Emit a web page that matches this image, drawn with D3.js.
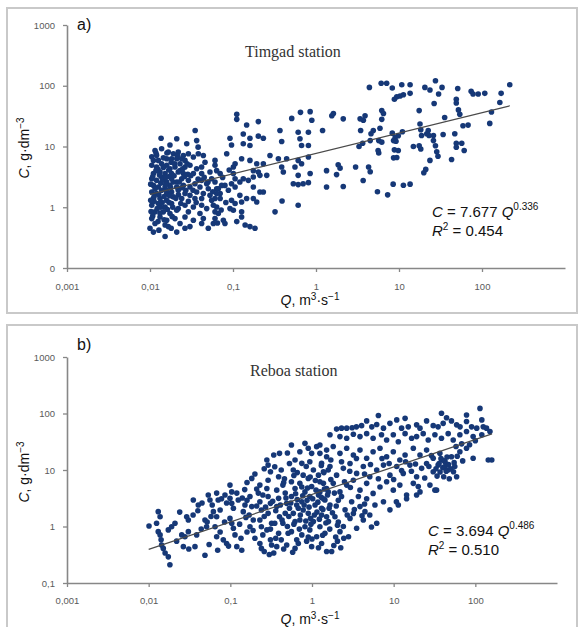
<!DOCTYPE html>
<html>
<head>
<meta charset="utf-8">
<script src="https://cdn.jsdelivr.net/npm/d3@7"></script>
<style>
  body { margin: 0; background: #fff; }
  text { font-family: "Liberation Sans", Arial, sans-serif; }
</style>
</head>
<body>
<script>
/*
*    C-Q rating plots, Timgad and Reboa stations
*/

// axis ticks
var xTicks = [0.001, 0.01, 0.1, 1, 10, 100];
var xTickLabels = ["0,001", "0,01", "0,1", "1", "10", "100"];
var yTicks = [0.1, 1, 10, 100, 1000];
var yTickLabelsA = ["0", "1", "10", "100", "1000"];
var yTickLabelsB = ["0,1", "1", "10", "100", "1000"];

// power law fits C = a*Q^b, R2 and Q range of the drawn line
var fitA = [7.677, 0.336];
var fitB = [3.694, 0.486];
var r2A = "0.454";
var r2B = "0.510";
var lineRangeA = [0.01, 217];
var lineRangeB = [0.01, 160];

// Timgad station [Q, C]
var timgad = [
  [0.111,34],[0.111,28],[0.146,22.6],[0.202,25.7],[0.51,29],[0.65,36.5],[0.85,37.5],[0.89,27],
  [0.035,18.3],[0.0136,13.7],[0.021,13.4],[0.0365,12.5],[0.038,9.75],[0.0277,11.1],[0.0174,10.6],
  [0.092,13.7],[0.096,10.6],[0.133,16.1],[0.16,13.7],[0.202,14.8],[0.232,13.7],[0.133,11.1],[0.16,10.4],
  [0.368,18.3],[0.386,12.1],[0.641,13.4],[0.81,17.2],[0.61,17.2],[0.67,10.4],[0.81,10.4],
  [0.084,7.6],[0.279,7.1],[0.352,6.3],[0.443,6.3],[0.61,5.9],[0.81,6.7],
  [0.106,5.2],[0.127,6.3],[0.16,5.9],[0.193,5.2],[0.232,5.2],[0.101,4.6],[0.176,4.0],[0.202,3.8],[0.211,3.35],[0.255,3.35],
  [0.386,4.6],[0.404,3.8],[0.558,4.6],[0.67,5.2],[0.61,3.35],[0.533,2.44],[0.61,2.36],[0.70,2.44],[0.81,2.54],[0.85,3.6],
  [0.133,2.95],[0.153,2.77],[0.176,3.15],[0.101,3.6],[0.106,2.95],[0.121,2.6],[0.096,2.44],[0.106,2.15],[0.08,2.29],[0.088,1.9],
  [0.176,2.15],[0.211,1.78],[0.232,1.78],[0.146,1.39],[0.176,1.39],[0.193,1.22],[0.321,0.84],[0.61,1.08],[0.39,1.27],
  [0.0666,2.02],[0.07,1.68],[0.0607,1.39],[0.0636,1.01],[0.0666,0.79],[0.092,0.95],[0.101,0.89],[0.0765,0.61],[0.08,0.54],
  [0.111,0.58],[0.127,0.84],[0.127,0.69],[0.14,0.51],[0.16,0.48],[0.184,0.45],
  [0.096,1.3],[0.106,1.15],[0.121,1.57],[0.127,1.22],[0.0504,0.45],[0.058,0.54],
  [0.0115,8.6],[0.0138,9.2],[0.0166,8.1],[0.0191,7.6],[0.0219,8.1],[0.0252,7.1],[0.029,7.6],[0.0333,6.7],[0.0382,7.6],[0.0439,7.1],
  [0.0159,6.3],[0.0182,6.3],[0.021,6.3],[0.0241,6.3],[0.011,5.9],[0.0126,5.9],[0.0264,5.9],[0.0607,5.9],[0.046,5.5],
  [0.0105,4.9],[0.012,4.6],[0.0138,5.2],[0.0159,4.9],[0.0174,4.3],[0.02,4.6],[0.023,5.2],[0.0264,4.6],[0.0303,4.9],[0.0365,4.3],[0.0419,4.6],[0.0607,4.9],[0.0636,4.0],
  [0.011,3.6],[0.0132,3.8],[0.0152,3.6],[0.0182,3.6],[0.0219,3.8],[0.0252,3.6],[0.0333,3.6],[0.0419,3.6],[0.0528,3.8],[0.07,3.6],
  [0.0105,2.95],[0.012,2.77],[0.0138,3.15],[0.0159,2.6],[0.0182,2.95],[0.021,2.6],[0.0241,2.95],[0.029,2.77],[0.0348,2.44],[0.0419,2.77],[0.0482,2.44],[0.0553,2.95],[0.0607,2.6],
  [0.011,2.29],[0.0126,2.15],[0.0152,2.15],[0.0174,2.29],[0.021,2.15],[0.0252,2.29],[0.0303,2.15],[0.04,2.15],[0.0504,2.02],[0.0636,2.02],[0.073,2.29],
  [0.0105,1.78],[0.012,1.68],[0.0138,1.9],[0.0159,1.68],[0.0182,1.78],[0.0219,1.9],[0.0264,1.68],[0.0303,1.57],[0.0365,1.78],[0.0439,1.68],[0.0528,1.57],[0.0636,1.68],
  [0.011,1.39],[0.0132,1.39],[0.0159,1.3],[0.0191,1.48],[0.0241,1.39],[0.029,1.25],[0.0348,1.39],[0.0419,1.39],[0.0553,1.3],[0.07,1.39],
  [0.0105,1.08],[0.0126,1.15],[0.0152,1.01],[0.0182,1.15],[0.0219,0.95],[0.0264,1.08],[0.0333,1.01],[0.0419,1.08],[0.0482,0.95],[0.058,1.08],
  [0.0115,0.84],[0.0145,0.84],[0.0174,0.79],[0.021,0.89],[0.029,0.84],[0.04,0.79],[0.0607,0.84],
  [0.0105,0.65],[0.0132,0.69],[0.0159,0.61],[0.02,0.65],[0.0264,0.69],[0.0333,0.61],[0.0439,0.65],[0.0607,0.65],
  [0.0115,0.54],[0.0152,0.51],[0.023,0.54],[0.0303,0.48],[0.0419,0.54],[0.01,0.45],[0.0166,0.48],[0.0264,0.45],[0.011,0.39],[0.0152,0.33],[0.021,0.39],
  [0.0105,6.8],[0.012,7.2],[0.0145,6.5],[0.016,7.8],[0.018,5.5],[0.0125,4.2],[0.0145,4.5],[0.017,3.2],[0.0135,2.5],[0.0115,2.0],
  [0.0155,2.4],[0.019,2.6],[0.0128,1.6],[0.0148,1.5],[0.017,1.2],[0.0112,1.25],[0.0135,1.0],[0.0162,0.92],[0.0108,0.72],[0.0125,0.58],
  [0.0185,0.7],[0.022,1.6],[0.024,2.1],[0.026,3.2],[0.023,4.0],[0.028,5.2],[0.031,3.3],[0.033,1.9],[0.036,1.2],[0.038,2.9],
  [0.045,3.1],[0.05,2.6],[0.057,1.8],[0.075,3.1],[0.082,1.2],[0.09,4.1],[0.065,0.55],[0.072,0.9],
  [0.0108,3.2],[0.0118,4.0],[0.013,3.4],[0.0142,2.8],[0.0155,3.1],[0.0168,4.1],[0.0178,2.1],[0.0195,3.3],[0.0205,1.4],[0.0225,2.6],
  [0.0235,1.15],[0.0248,4.3],[0.027,1.9],[0.0285,3.5],[0.0112,1.5],[0.0122,0.95],[0.014,1.2],[0.0158,1.9],[0.0172,1.55],[0.0188,1.0],
  [0.0198,5.2],[0.0215,7.0],[0.0118,7.8],[0.0102,2.4],[0.0102,1.3],[0.0103,0.85],[0.0132,0.8],[0.0148,0.62],[0.018,0.45],[0.0128,0.42],
  [4.4,94],[6.1,110],[7.1,110],[8.3,92],[10.8,104],[13.6,104],[10.3,68],[8.8,60],[9.4,66],[11.3,71],[13.6,75],[20.5,94],[23.6,85],
  [27.5,121],[33,94],[30,73],[26.5,51],[51,90],[49,60],[49,52],[52,40],[54,34],[74,81],[78,73],[90,73],[108,75],[170,75],[164,53],
  [216,104],[130,37],[124,24],[59,22],[68,22.5],[47,16.2],[49,11.3],[57,11.3],[61,8.6],[49,9.7],[43,6.1],[34,15.8],[35.5,30],
  [26,15.2],[26,12.5],[27.5,10.3],[28.5,8.2],[29.5,6.9],[22.5,18.3],[21.6,16.2],[23,15.2],[23.6,5.9],[21,4.2],[19.9,3.7],
  [17.9,23.5],[18.3,18.9],[18.7,15.2],[17.5,39],[17.5,10.3],[14.9,10],[18.3,9.1],[11,17.5],[9.8,15],[9,14.2],[8.3,16.6],
  [8.6,12.5],[9.2,12.2],[8.8,8.8],[9.8,8.6],[8.6,6.5],[6.2,39],[6.5,35],[6.2,28],[5.9,20],[5.7,12.5],[6.2,11.8],[5.6,8.6],
  [5.7,7.8],[4.9,18.3],[4.6,16.2],[4.5,12.5],[3.9,32],[3.72,27],[3.4,28.5],[3.45,18.3],[3.65,11.3],[3.3,10],[4.3,4.6],
  [4.5,3.85],[3.7,2.75],[3.0,4.6],[5.5,1.8],[7.3,1.6],[8.5,2.4],[11.3,2.3],[13.6,2.4],[9.4,6.6],[1.2,18.3],[1.55,32],
  [1.62,35],[2.13,28.5],[1.85,5],[1.95,4.4],[1.34,4.0],[1.77,3.45],[1.34,2.15],[2.13,2.2]
];

// Reboa station [Q, C]
var reboa = [
  [0.0101,1.02],[0.0131,1.83],[0.0138,1.49],[0.0125,1.14],[0.0131,0.81],[0.0138,0.71],[0.0142,0.58],[0.0144,0.47],[0.0151,0.41],
  [0.0159,0.34],[0.0174,0.29],[0.0182,0.21],[0.0174,0.87],[0.0191,0.99],[0.021,1.14],[0.0254,0.71],[0.0278,0.66],[0.0266,0.44],
  [0.0306,0.81],[0.0292,1.49],[0.0306,1.3],[0.0352,2.95],[0.0405,2.4],[0.0387,0.71],[0.0369,0.44],[0.0489,1.3],[0.0512,0.99],
  [0.0489,0.31],[0.0537,3.6],[0.0563,2.95],[0.068,3.9],[0.071,2.95],[0.075,1.96],[0.065,0.99],[0.068,0.66],[0.062,1.83],
  [0.068,1.49],[0.086,3.6],[0.082,0.58],[0.09,0.5],
  [0.099,5.4],[0.104,4.1],[0.099,3.15],[0.104,2.57],[0.109,2.1],[0.099,1.39],[0.104,1.14],[0.109,0.93],[0.114,0.71],[0.12,0.44],
  [0.138,0.38],[0.12,3.9],[0.125,2.95],[0.151,2.4],[0.144,1.83],
  [0.183,7.1],[0.174,3.4],[0.183,2.25],[0.191,1.3],[0.174,0.99],
  [0.23,5.4],[0.22,3.9],[0.23,2.75],[0.24,1.96],[0.23,1.3],[0.24,0.99],[0.25,0.71],[0.23,0.5],[0.24,0.41],[0.26,0.36],
  [0.28,15],[0.29,12.2],[0.31,9.3],[0.29,6.6],[0.28,4.7],[0.29,3.4],[0.31,2.57],[0.29,1.71],[0.32,1.14],[0.28,0.87],[0.31,0.58],[0.32,0.47],
  [0.34,18.4],[0.4,19.7],[0.35,11.4],[0.39,7.6],[0.37,4.4],[0.39,3.15],[0.37,2.25],[0.4,1.49],[0.35,1.14],[0.39,0.76],[0.42,0.58],[0.37,0.44],
  [0.42,10],[0.44,5.4],[0.47,3.9],[0.49,2.57],[0.47,1.71],[0.44,1.14],[0.51,0.76],[0.49,0.47],
  [0.56,27.7],[0.62,15],[0.59,10],[0.56,6.2],[0.62,4.7],[0.56,3.4],[0.65,2.4],[0.59,1.71],[0.62,1.22],[0.56,0.81],[0.65,0.58],[0.62,0.41],
  [0.71,21.1],[0.75,13.1],[0.78,8.1],[0.71,5.8],[0.82,4.1],[0.75,2.75],[0.78,1.96],[0.71,1.3],[0.82,0.99],[0.75,0.71],[0.68,0.5],
  [0.82,29.6],[0.9,24.2],[0.99,19.7],[0.94,14],[1.04,10],[0.9,7.1],[0.99,5.1],[0.94,3.4],[1.09,2.4],[0.9,1.71],[1.04,1.22],
  [0.94,0.87],[1.14,0.66],[0.99,0.44],
  [1.14,25.9],[1.25,19.7],[1.31,13.1],[1.2,8.1],[1.38,5.8],[1.25,4.1],[1.44,2.95],[1.31,2.1],[1.51,1.49],[1.25,0.99],[1.44,0.76],
  [1.31,0.5],[1.51,0.36],[1.51,17.2],[1.58,10],[1.58,4.1],
  [0.04,1.9],[0.045,2.6],[0.035,1.6],[0.058,1.5],[0.06,2.4],[0.052,1.2],[0.044,0.9],[0.024,1.8],[0.022,0.55],[0.031,0.4],
  [0.055,0.48],[0.075,0.8],[0.085,1.2],[0.09,2.6],[0.078,3.1],[0.095,0.45],[0.07,0.38],
  [0.15,4.5],[0.16,6.0],[0.2,8.5],[0.21,4.6],[0.14,3.2],[0.26,10.5],[0.25,3.6],[0.17,1.6],[0.13,1.1],[0.2,0.62],[0.16,0.8],
  [0.27,2.2],[0.53,13],[0.46,7.0],[0.5,20],[0.66,9.0],[0.85,11.5],[0.66,3.0],[0.53,2.1],[0.87,2.9],[0.96,1.4],[1.15,1.8],
  [1.2,3.6],[1.1,6.5],[1.4,9.0],[1.0,0.6],[0.86,0.55],[1.2,0.42],[0.58,0.35],[0.45,0.4],[0.34,0.34],[0.3,0.32],
  [1.74,0.36],[1.85,0.46],[2.05,0.55],[2.25,0.42],[2.45,0.62],[1.95,0.65],[2.8,0.66],
  [0.33,2.8],[0.36,1.9],[0.41,2.4],[0.43,1.3],[0.48,3.2],[0.52,1.5],[0.55,2.6],[0.6,1.1],[0.63,3.8],[0.68,2.1],[0.72,1.6],
  [0.77,3.5],[0.8,2.4],[0.84,1.25],[0.88,4.8],[0.92,2.2],[0.97,1.1],[1.02,3.1],[1.07,1.6],[1.12,4.4],[1.18,2.7],[1.23,1.35],
  [1.3,3.3],[1.36,2.0],[1.42,4.6],[1.48,1.15],[1.55,3.6],[1.62,2.1],[1.7,6.8],[1.78,1.75],[1.88,3.9],[1.98,2.3],[2.1,1.2],
  [2.3,3.4],[2.5,6.2],[2.7,1.6],[2.95,4.9],[3.3,2.0],[3.7,3.4],[4.1,1.55],[4.4,2.5],[0.45,6.0],[0.6,8.0],[0.75,5.0],[0.95,7.5],
  [1.3,12],[1.7,15],[2.3,14],[2.9,9.5],[3.5,16],[4.4,8.5],[5.2,12.5],[6.5,7.0],[7.2,16],[8.8,13],[10,6.8],[12.5,9.8],[14,14],
  [16.5,9.5],[18.5,12.8],[24,7.2],[27,11.5],[29,18],[34,7.8],[37,9.2],[45,17],[48,7.0],[55,13.5],[60,17.5],[70,14.5],[85,28],
  [100,33],[68,29],[58,26],[0.26,1.5],[0.21,2.3],[0.19,0.85],[0.155,1.45],[0.135,0.62],[0.16,2.9],[0.31,0.9],[0.36,0.62],
  [0.5,1.0],[0.7,0.9],[0.9,0.65],[1.35,0.7],[1.65,0.9],[2.05,1.05],
  [114,123],[2.0,53],[2.3,55],[2.66,55],[3.1,56],[3.5,58],[4.05,61],[4.67,74],[5.4,58],[6.2,64],[6.5,92],[7.5,55],[9.0,67],
  [10.9,77],[13.8,82],[12.5,55],[15.1,58],[19.1,63],[21,55],[25.3,74],[30.5,61],[35,58],[40.4,67],[44.4,84],[51,74],[59,63],
  [65,58],[78,72],[90,58],[104,55],[125,58],[137,55],[120,77],[38.5,101],[78,94],
  [1.66,42],[2.2,39],[2.66,36.4],[3.21,43],[3.87,39],[4.67,44],[5.6,36.4],[7.1,42],[8.2,34],[9.9,42],[11.4,31.7],[13.8,44],
  [16.6,36.4],[19.1,39],[23,44],[26.5,34],[32,42],[38.5,36.4],[46.5,44],[53.6,34],[64.7,42],[78,48],[94,39],[120,42],[151,48],
  [1.25,27.7],[1.51,22.5],[1.82,26],[2.2,19.7],[2.66,24.2],[3.21,18.4],[3.87,22.5],[4.67,16.1],[5.6,21.1],[6.8,24.2],[8.2,17.2],
  [9.9,21.1],[11.9,15],[13.8,18.4],[17.4,24.2],[21,18.4],[25.3,22.5],[30.5,16.1],[36.8,19.7],[42.5,14],[51,17.2],[64.7,21.1],
  [78,24.2],[94,16.1],
  [1.38,9.3],[1.66,11.5],[2.0,8.1],[2.42,10.7],[2.92,13],[3.52,8.7],[4.25,11.5],[5.1,7.6],[6.2,10],[7.5,12.2],[9.0,8.1],
  [10.9,11.5],[13.1,8.7],[15.8,12.2],[19.1,7.6],[22,10.7],[25.3,13],[30.5,9.3],[35,12.2],[38.5,15],[42.5,11.5],[46.5,10],
  [56,11.5],[59,7.6],[144,15],[159,15],
  [1.25,6.2],[1.51,4.7],[1.82,5.8],[2.2,4.1],[2.66,5.4],[3.21,6.6],[3.87,4.4],[4.67,5.8],[5.6,3.85],[6.8,5.0],[8.2,6.2],
  [9.9,4.4],[11.9,5.4],[14.4,3.6],[17.4,5.8],[21,4.1],[27.8,5.4],[32,4.4],
  [1.38,3.1],[1.66,2.4],[2.1,2.9],[2.54,1.97],[3.06,2.75],[3.87,2.25],[4.67,3.1],[5.9,2.4],[7.5,2.75],[9.0,1.97],[11.4,2.4],
  [14.4,3.1],[19.1,3.6],
  [1.31,1.6],[1.59,1.22],[1.91,1.49],[2.42,1.0],[2.92,1.39],[3.52,0.93],[4.25,1.3],[5.1,1.6],[6.2,1.14],[2.2,0.81],[3.21,1.7],
  [4.45,1.83],[5.35,0.98],
  [41,7.6],[54,9.3],[33.5,4.4],[20,5.1],[10.8,2.75],
  [36,13],[40,11],[44,9.5],[38,16],[47,12.5],[33,10.5],[42,14.5],[50,10.5]
];

var svg = d3.select("body")
  .append("svg")
    .attr("width", 579)
    .attr("height", 627);

function drawPanel(p) {
  var g = svg.append("g");

  // panel frame
  g.append("rect")
    .attr("x", 7)
    .attr("y", p.frameTop)
    .attr("width", 570)
    .attr("height", p.frameH)
    .attr("fill", "none")
    .attr("stroke", "#c9c9c9")
    .attr("stroke-width", 2);

  var x = d3.scaleLog()
    .domain([0.001, 1000])
    .range([67, p.xEnd]);

  var y = d3.scaleLog()
    .domain([0.1, 1000])
    .range([p.yBottom, p.yTop]);

  var xAxis = d3.axisBottom(x)
    .tickValues(xTicks)
    .tickFormat(function(d, i) { return xTickLabels[i]; })
    .tickSizeInner(4)
    .tickSizeOuter(0)
    .tickPadding(p.xPad);

  var yAxis = d3.axisLeft(y)
    .tickValues(yTicks)
    .tickFormat(function(d, i) { return p.yLabels[i]; })
    .tickSizeInner(4)
    .tickSizeOuter(0)
    .tickPadding(8);

  var gx = g.append("g")
    .attr("transform", "translate(0," + p.yBottom + ")")
    .call(xAxis);
  var gy = g.append("g")
    .attr("transform", "translate(67,0)")
    .call(yAxis);

  [gx, gy].forEach(function(a) {
    a.select(".domain").attr("stroke", "#878787").attr("stroke-width", 1.6);
    a.selectAll(".tick line").attr("stroke", "#878787").attr("stroke-width", 1.3);
    a.selectAll(".tick text")
      .attr("fill", "#5a5a5a")
      .style("font-size", "9.5px")
      .style("font-family", "'Liberation Sans', Arial, sans-serif");
  });

  // points
  g.selectAll("circle.pt")
    .data(p.data)
    .enter()
    .append("circle")
      .attr("class", "pt")
      .attr("cx", function(d) { return x(d[0]); })
      .attr("cy", function(d) { return y(d[1]); })
      .attr("r", 2.8)
      .attr("fill", "#163877");

  // trend line
  var fitPts = p.range.map(function(q) { return [q, p.fit[0] * Math.pow(q, p.fit[1])]; });
  g.append("path")
    .attr("d", d3.line()
      .x(function(d) { return x(d[0]); })
      .y(function(d) { return y(d[1]); })(fitPts))
    .attr("stroke", "#4a4a4a")
    .attr("stroke-width", 1.2)
    .attr("fill", "none");

  // panel letter
  g.append("text")
    .attr("x", 77)
    .attr("y", p.letterY)
    .style("font-size", "16px")
    .attr("fill", "#111")
    .text(p.letter);

  // station title
  g.append("text")
    .attr("x", p.titleX)
    .attr("y", p.titleY)
    .style("font-family", "'Liberation Serif', 'DejaVu Serif', serif")
    .style("font-size", "16px")
    .attr("fill", "#333")
    .text(p.title);

  // equation
  var eq = g.append("text")
    .attr("x", p.eqX)
    .attr("y", p.eqY)
    .style("font-size", "15px")
    .attr("fill", "#111");
  eq.append("tspan").style("font-style", "italic").text("C");
  eq.append("tspan").text(" = " + p.fit[0].toFixed(3) + " ");
  eq.append("tspan").style("font-style", "italic").text("Q");
  eq.append("tspan").attr("dy", -7).style("font-size", "10px").text(p.fit[1].toFixed(3));

  var r2 = g.append("text")
    .attr("x", p.eqX)
    .attr("y", p.eqY + 19)
    .style("font-size", "15px")
    .attr("fill", "#111");
  r2.append("tspan").style("font-style", "italic").text("R");
  r2.append("tspan").attr("dy", -6).style("font-size", "10px").text("2");
  r2.append("tspan").attr("dy", 6).text(" = " + p.r2);

  // x axis title
  var xt = g.append("text")
    .attr("x", 310)
    .attr("y", p.xTitleY)
    .attr("text-anchor", "middle")
    .style("font-size", "14px")
    .attr("fill", "#111");
  xt.append("tspan").style("font-style", "italic").text("Q");
  xt.append("tspan").text(", m");
  xt.append("tspan").attr("dy", -5).style("font-size", "10px").text("3");
  xt.append("tspan").attr("dy", 5).text("·s");
  xt.append("tspan").attr("dy", -5).style("font-size", "10px").text("−1");

  // y axis title
  var yt = g.append("text")
    .attr("x", 29)
    .attr("y", p.yTitleY)
    .attr("text-anchor", "middle")
    .attr("transform", "rotate(-90, 29, " + p.yTitleY + ")")
    .style("font-size", "14px")
    .attr("fill", "#111");
  yt.append("tspan").style("font-style", "italic").text("C");
  yt.append("tspan").text(", g·dm");
  yt.append("tspan").attr("dy", -5).style("font-size", "10px").text("−3");
}

drawPanel({
  data: timgad, fit: fitA, r2: r2A, range: lineRangeA,
  frameTop: 8, frameH: 305,
  xEnd: 565, yBottom: 268, yTop: 25, xPad: 11,
  yLabels: yTickLabelsA,
  letter: "a)", letterY: 30,
  title: "Timgad station", titleX: 245, titleY: 57,
  eqX: 432, eqY: 217,
  xTitleY: 305, yTitleY: 148
});

drawPanel({
  data: reboa, fit: fitB, r2: r2B, range: lineRangeB,
  frameTop: 325, frameH: 320,
  xEnd: 557, yBottom: 583, yTop: 357, xPad: 10,
  yLabels: yTickLabelsB,
  letter: "b)", letterY: 350,
  title: "Reboa station", titleX: 250, titleY: 376,
  eqX: 428, eqY: 536,
  xTitleY: 624, yTitleY: 472
});
</script>
</body>
</html>
